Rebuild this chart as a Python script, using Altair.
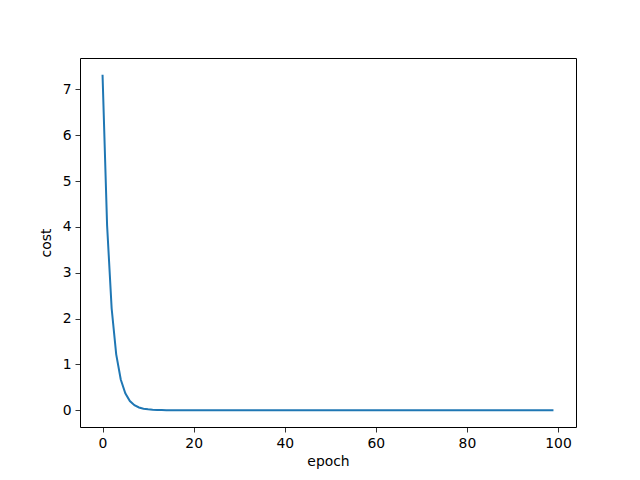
import altair as alt
import pandas as pd

epochs = list(range(100))
cost = [7.32, 4.03, 2.22, 1.22, 0.67, 0.37, 0.20, 0.11, 0.06, 0.034,
        0.019, 0.010, 0.0057, 0.003, 0.0017, 0.001, 0.0005, 0.0003, 0.0002, 0.0001,
        0.0, 0.0, 0.0, 0.0, 0.0, 0.0, 0.0, 0.0, 0.0, 0.0,
        0.0, 0.0, 0.0, 0.0, 0.0, 0.0, 0.0, 0.0, 0.0, 0.0,
        0.0, 0.0, 0.0, 0.0, 0.0, 0.0, 0.0, 0.0, 0.0, 0.0,
        0.0, 0.0, 0.0, 0.0, 0.0, 0.0, 0.0, 0.0, 0.0, 0.0,
        0.0, 0.0, 0.0, 0.0, 0.0, 0.0, 0.0, 0.0, 0.0, 0.0,
        0.0, 0.0, 0.0, 0.0, 0.0, 0.0, 0.0, 0.0, 0.0, 0.0,
        0.0, 0.0, 0.0, 0.0, 0.0, 0.0, 0.0, 0.0, 0.0, 0.0,
        0.0, 0.0, 0.0, 0.0, 0.0, 0.0, 0.0, 0.0, 0.0, 0.0]
x_ticks = [0, 20, 40, 60, 80, 100]
y_ticks = [0, 1, 2, 3, 4, 5, 6, 7]

df = pd.DataFrame({"epoch": epochs, "cost": cost})

font = "DejaVu Sans"
axis_common = dict(
    grid=False, domain=False, tickColor="black", tickSize=5, tickWidth=0.8,
    labelColor="black", labelFont=font, labelFontSize=13.9, labelPadding=4,
    titleFont=font, titleFontSize=13.9, titleFontWeight="normal", titleColor="black",
)

chart = alt.Chart(df).mark_line(color="#1f77b4", strokeWidth=2).encode(
    x=alt.X("epoch:Q", scale=alt.Scale(domain=[-4.95, 103.95], nice=False, zero=False),
            axis=alt.Axis(values=x_ticks, titlePadding=5, **axis_common)),
    y=alt.Y("cost:Q", scale=alt.Scale(domain=[-0.366, 7.686], nice=False, zero=False),
            axis=alt.Axis(values=y_ticks, titlePadding=9, **axis_common)),
).properties(
    width=496, height=369,
    autosize=alt.AutoSizeParams(type="none"),
    padding={"left": 72, "top": 50, "right": 56, "bottom": 45},
    background="white",
).configure_view(stroke="black", strokeWidth=1)

chart.save("out.html", embed_options={"renderer": "svg", "actions": False})
